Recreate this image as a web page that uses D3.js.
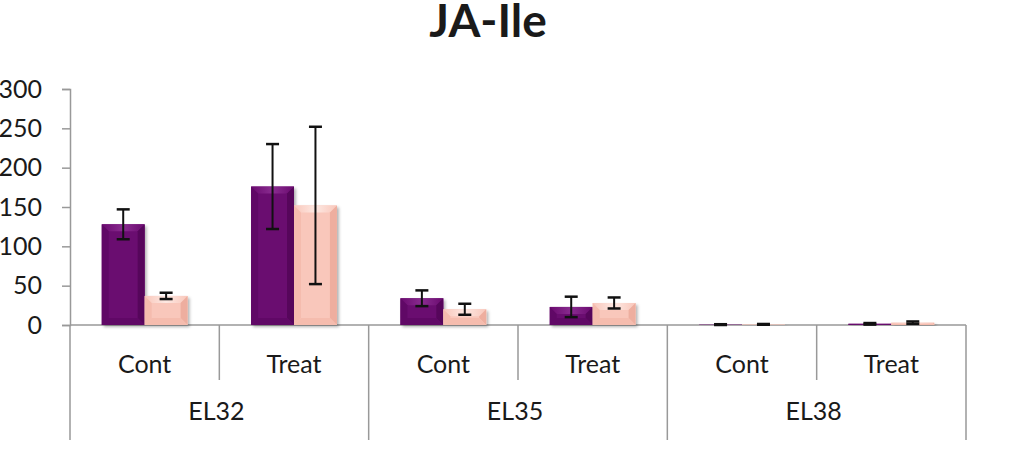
<!DOCTYPE html>
<html>
<head>
<meta charset="utf-8">
<script src="https://cdn.jsdelivr.net/npm/d3@7"></script>
<style>
  body { margin: 0; background: #fff; }
  svg { display: block; }
  text { font-family: Lato, "Open Sans", sans-serif; fill: #1a1a1a; }
</style>
</head>
<body>
<svg id="chart"></svg>
<script>
// data
var groups = ["EL32", "EL35", "EL38"];
var treatments = ["Cont", "Treat"];
var seriesNames = ["A", "B"];
var valuesA = [128, 176, 34, 23, 0.5, 1.5];
var errorsA = [19, 54, 10, 13, 0.5, 1];
var valuesB = [37, 152, 20, 28, 0.8, 3];
var errorsB = [4, 100, 7, 7, 0.5, 1.5];
var yTicks = [0, 50, 100, 150, 200, 250, 300];

var width = 1024, height = 451;
var plotLeft = 70, plotRight = 966, plotTop = 89, plotBottom = 325;

var svg = d3.select("#chart").attr("width", width).attr("height", height);

// categories: one per group x treatment
var cats = [];
groups.forEach(function(g, gi) {
  treatments.forEach(function(t, ti) {
    cats.push({ key: g + "-" + t, group: g, treat: t, i: gi * 2 + ti });
  });
});

var x = d3.scaleBand().domain(cats.map(function(c) { return c.key; })).range([plotLeft, plotRight]);
var xg = d3.scaleBand().domain(groups).range([plotLeft, plotRight]);
var xs = d3.scaleBand().domain(seriesNames).range([0, x.bandwidth()]).paddingOuter(0.74);
var y = d3.scaleLinear().domain([0, 300]).range([plotBottom, plotTop]);

// shadow + gradients
var defs = svg.append("defs");
var sh = defs.append("filter").attr("id", "shadow").attr("x", "-20%").attr("y", "-20%").attr("width", "150%").attr("height", "150%");
sh.append("feDropShadow").attr("dx", 2).attr("dy", 2).attr("stdDeviation", 1.5)
  .attr("flood-color", "#000").attr("flood-opacity", 0.3);

var styles = {
  A: { main: "#6a0a6f", hi: "#8a2c90", side: "#600866", dark: "#56065b" },
  B: { main: "#f9c7bb", hi: "#fde8e2", side: "#f5bcae", dark: "#eeae9f" }
};
seriesNames.forEach(function(s) {
  var gr = defs.append("linearGradient").attr("id", "top" + s).attr("x1", 0).attr("x2", 1).attr("y1", 0).attr("y2", 0);
  gr.append("stop").attr("offset", "0%").attr("stop-color", styles[s].main);
  gr.append("stop").attr("offset", "50%").attr("stop-color", styles[s].hi);
  gr.append("stop").attr("offset", "100%").attr("stop-color", styles[s].main);
});

// y axis
var yAxis = svg.append("g").attr("transform", "translate(" + plotLeft + ",0)")
  .call(d3.axisLeft(y).tickValues(yTicks).tickSize(8).tickPadding(20));
yAxis.select(".domain").attr("stroke", "#999").attr("stroke-width", 1.5);
yAxis.selectAll(".tick line").attr("stroke", "#999").attr("stroke-width", 1.5);
yAxis.selectAll(".tick text").style("font-size", "25px").attr("fill", "#1a1a1a");

// x axis baseline
svg.append("line").attr("x1", plotLeft).attr("x2", plotRight).attr("y1", plotBottom).attr("y2", plotBottom)
  .attr("stroke", "#999").attr("stroke-width", 1.5);

// separators between treatments (short) and groups (long)
var seps = d3.range(cats.length + 1).map(function(i) {
  return { x: plotLeft + i * x.step(), long: i % 2 === 0 };
});
svg.selectAll(".sep").data(seps).enter().append("line")
  .attr("x1", function(d) { return d.x; }).attr("x2", function(d) { return d.x; })
  .attr("y1", plotBottom).attr("y2", function(d) { return d.long ? 440 : 380; })
  .attr("stroke", "#999").attr("stroke-width", 1.5);

// category labels
svg.selectAll(".cat").data(cats).enter().append("text")
  .attr("x", function(d) { return x(d.key) + x.bandwidth() / 2; })
  .attr("y", 373).attr("text-anchor", "middle").style("font-size", "25px")
  .text(function(d) { return d.treat; });

svg.selectAll(".grp").data(groups).enter().append("text")
  .attr("x", function(d) { return xg(d) + xg.bandwidth() / 2 - 3; })
  .attr("y", 420).attr("text-anchor", "middle").style("font-size", "25px")
  .text(function(d) { return d; });

// bars
var bars = [];
cats.forEach(function(c) {
  bars.push({ cat: c.key, s: "A", v: valuesA[c.i], e: errorsA[c.i] });
  bars.push({ cat: c.key, s: "B", v: valuesB[c.i], e: errorsB[c.i] });
});

var barG = svg.selectAll(".bar").data(bars).enter().append("g").attr("class", "bar");

barG.each(function(d) {
  var g = d3.select(this);
  var bx = x(d.cat) + xs(d.s), bw = xs.bandwidth();
  var by = y(d.v), bh = plotBottom - by;
  var b = Math.min(7, bh / 2);
  var st = styles[d.s];
  g.append("rect").attr("x", bx).attr("y", by).attr("width", bw).attr("height", bh)
    .attr("fill", st.main).attr("filter", "url(#shadow)");
  if (bh < 1) return;
  // bevel faces
  g.append("polygon").attr("fill", "url(#top" + d.s + ")")
    .attr("points", [[bx, by], [bx + bw, by], [bx + bw - b, by + b], [bx + b, by + b]].join(" "));
  g.append("polygon").attr("fill", st.side)
    .attr("points", [[bx, by], [bx + b, by + b], [bx + b, by + bh - b], [bx, by + bh]].join(" "));
  g.append("polygon").attr("fill", st.dark)
    .attr("points", [[bx + bw, by], [bx + bw - b, by + b], [bx + bw - b, by + bh - b], [bx + bw, by + bh]].join(" "));
  g.append("polygon").attr("fill", st.side)
    .attr("points", [[bx, by + bh], [bx + b, by + bh - b], [bx + bw - b, by + bh - b], [bx + bw, by + bh]].join(" "));
});

// error bars
var cap = 6.5;
barG.each(function(d) {
  var g = d3.select(this);
  var cx = x(d.cat) + xs(d.s) + xs.bandwidth() / 2;
  var y1 = y(d.v + d.e), y2 = y(Math.max(0, d.v - d.e));
  g.append("line").attr("x1", cx).attr("x2", cx).attr("y1", y1).attr("y2", y2)
    .attr("stroke", "#111").attr("stroke-width", 2);
  [y1, y2].forEach(function(yy) {
    g.append("line").attr("x1", cx - cap).attr("x2", cx + cap).attr("y1", yy).attr("y2", yy)
      .attr("stroke", "#111").attr("stroke-width", 2.5);
  });
});

// title
svg.append("text").attr("x", 488).attr("y", 37).attr("text-anchor", "middle")
  .style("font-size", "46px").style("font-weight", "bold").attr("fill", "#111")
  .text("JA-Ile");
</script>
</body>
</html>
